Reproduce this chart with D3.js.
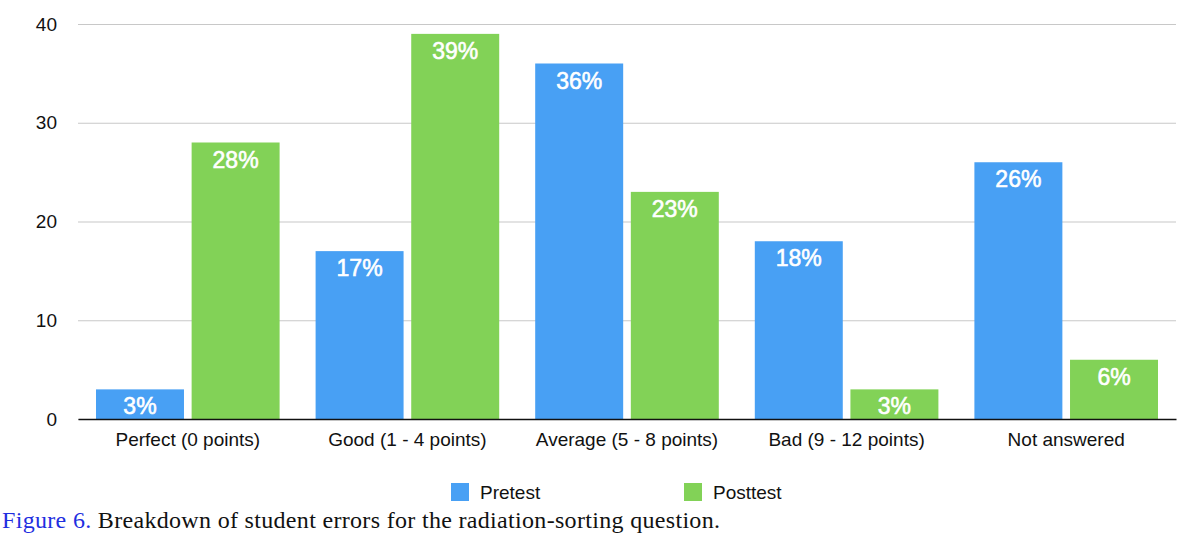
<!DOCTYPE html>
<html>
<head>
<meta charset="utf-8">
<script src="https://cdn.jsdelivr.net/npm/d3@7"></script>
<style>
	body { margin: 0; background: #fff; }
	svg { display: block; }
</style>
</head>
<body>
<svg id="chart" width="1200" height="544"></svg>
<script>
	// Data
	var categories = ['Perfect (0 points)', 'Good (1 - 4 points)', 'Average (5 - 8 points)', 'Bad (9 - 12 points)', 'Not answered'],
		series = ['Pretest', 'Posttest'],
		pretest = [3, 17, 36, 18, 26],
		posttest = [28, 39, 23, 3, 6],
		pretestLabels = ['3%', '17%', '36%', '18%', '26%'],
		posttestLabels = ['28%', '39%', '23%', '3%', '6%'],
		yTicks = [0, 10, 20, 30, 40];

	var colors = { 'Pretest': '#48a0f4', 'Posttest': '#82d257' };
	var font = '"Liberation Sans", Arial, Helvetica, sans-serif';

	var svg = d3.select('#chart');
	var margin = { left: 78, right: 24, top: 24, bottom: 125 },
		width = 1200 - margin.left - margin.right,
		height = 544 - margin.top - margin.bottom;

	var g = svg.append('g')
		.attr('transform', 'translate(' + margin.left + ',' + margin.top + ')');

	var x0 = d3.scaleBand()
		.domain(categories)
		.range([0, width])
		.paddingInner(0)
		.paddingOuter(0);

	var x1 = d3.scaleBand()
		.domain(series)
		.range([18, x0.bandwidth() - 18])
		.paddingInner(0.08);

	var y = d3.scaleLinear()
		.domain([0, 40])
		.range([height, 0]);

	// gridlines + y labels
	var yAxis = d3.axisLeft(y)
		.tickValues(yTicks)
		.tickSize(-width)
		.tickPadding(21)
		.tickFormat(d3.format('d'));

	var ya = g.append('g').attr('class', 'y-axis').call(yAxis);
	ya.select('.domain').remove();
	ya.selectAll('.tick line').attr('stroke', '#c8c8c8').attr('stroke-width', 1.2);
	ya.selectAll('.tick text')
		.attr('fill', '#111')
		.style('font-family', font)
		.style('font-size', '19px');

	// rows of grouped data
	var rows = categories.map(function(c, i) {
		return { cat: c, values: [
			{ key: 'Pretest', value: pretest[i], label: pretestLabels[i] },
			{ key: 'Posttest', value: posttest[i], label: posttestLabels[i] }
		]};
	});

	var grp = g.selectAll('.group')
		.data(rows)
		.enter().append('g')
		.attr('class', 'group')
		.attr('transform', function(d) { return 'translate(' + x0(d.cat) + ',0)'; });

	grp.selectAll('rect')
		.data(function(d) { return d.values; })
		.enter().append('rect')
		.attr('x', function(d) { return x1(d.key); })
		.attr('y', function(d) { return y(d.value); })
		.attr('width', x1.bandwidth())
		.attr('height', function(d) { return height - y(d.value); })
		.attr('fill', function(d) { return colors[d.key]; });

	// value labels, regular weight with a thin stroke to look "medium"
	grp.selectAll('text.val')
		.data(function(d) { return d.values; })
		.enter().append('text')
		.attr('class', 'val')
		.attr('x', function(d) { return x1(d.key) + x1.bandwidth() / 2; })
		.attr('y', function(d) { return y(d.value) + 25; })
		.attr('text-anchor', 'middle')
		.attr('fill', '#fff')
		.attr('stroke', '#fff')
		.attr('stroke-width', 0.6)
		.style('font-family', font)
		.style('font-size', '23px')
		.text(function(d) { return d.label; });

	// x axis
	var xAxis = d3.axisBottom(x0).tickSize(0).tickPadding(14);
	var xa = g.append('g')
		.attr('transform', 'translate(0,' + height + ')')
		.call(xAxis);
	xa.select('.domain').attr('stroke', '#111').attr('stroke-width', 1.6);
	xa.selectAll('.tick text')
		.attr('fill', '#111')
		.style('font-family', font)
		.style('font-size', '19px');

	// legend
	var legendX = [451, 684];
	var lg = svg.selectAll('.legend')
		.data(series)
		.enter().append('g')
		.attr('class', 'legend')
		.attr('transform', function(d, i) { return 'translate(' + legendX[i] + ',483)'; });
	lg.append('rect')
		.attr('width', 18).attr('height', 18)
		.attr('fill', function(d) { return colors[d]; });
	lg.append('text')
		.attr('x', 29).attr('y', 16)
		.attr('fill', '#111')
		.style('font-family', font)
		.style('font-size', '19px')
		.text(function(d) { return d; });

	// caption
	var cap = svg.append('text')
		.attr('x', 2).attr('y', 528)
		.attr('textLength', 718)
		.attr('lengthAdjust', 'spacing')
		.style('font-family', '"Liberation Serif", "DejaVu Serif", serif')
		.style('font-size', '24px')
		.attr('fill', '#111');
	cap.append('tspan').attr('fill', '#1f2fe0').text('Figure 6.');
	cap.append('tspan').text(' Breakdown of student errors for the radiation-sorting question.');
</script>
</body>
</html>
